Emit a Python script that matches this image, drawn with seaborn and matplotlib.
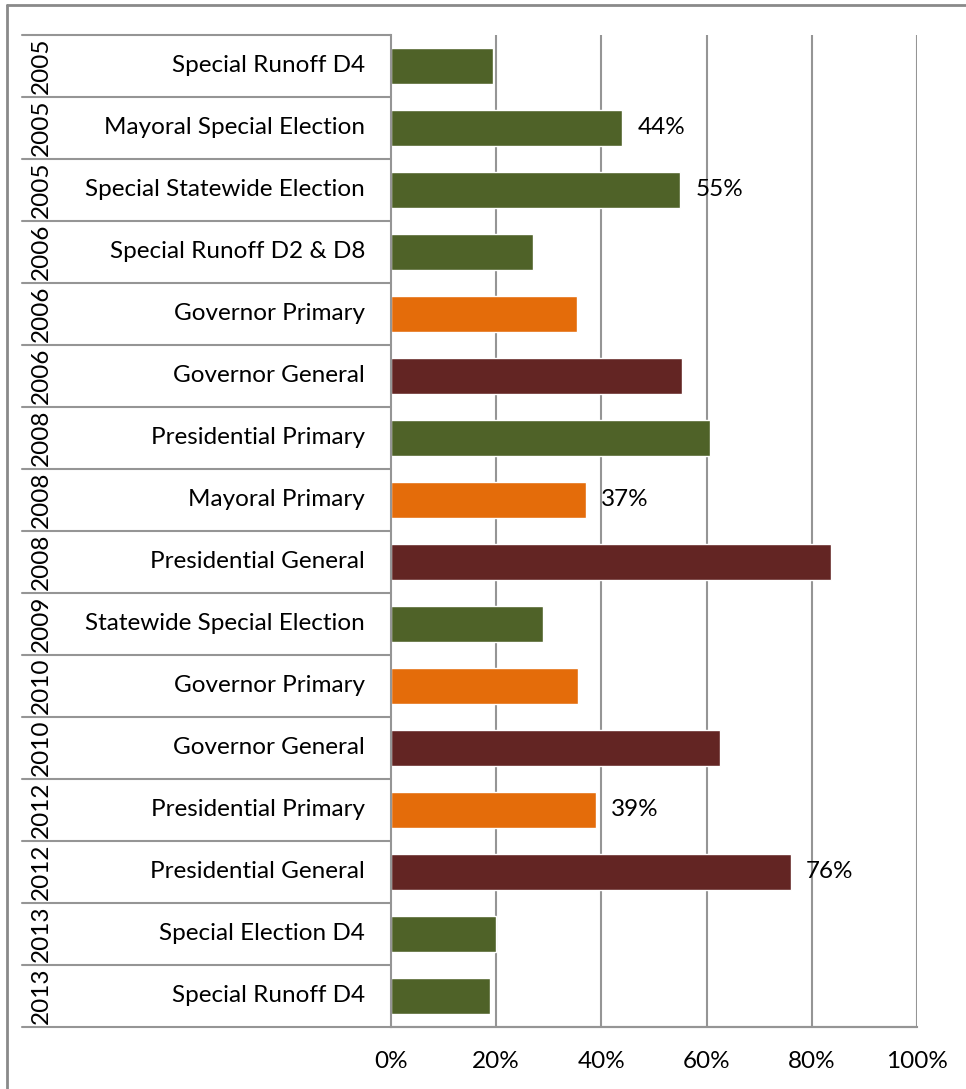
import matplotlib
matplotlib.use("Agg")
import matplotlib.pyplot as plt
import matplotlib.transforms as mtransforms
from matplotlib.lines import Line2D
import pandas as pd
import seaborn as sns

years = [2005, 2005, 2005, 2006, 2006, 2006, 2008, 2008, 2008,
         2009, 2010, 2010, 2012, 2012, 2013, 2013]
elections = [
    "Special Runoff D4", "Mayoral Special Election", "Special Statewide Election",
    "Special Runoff D2 & D8", "Governor Primary", "Governor General",
    "Presidential Primary", "Mayoral Primary", "Presidential General",
    "Statewide Special Election", "Governor Primary", "Governor General",
    "Presidential Primary", "Presidential General", "Special Election D4",
    "Special Runoff D4",
]
turnout = [19.4, 44, 55, 27.0, 35.4, 55.3, 60.6, 37, 83.7,
           28.9, 35.6, 62.5, 39, 76, 20.0, 18.8]
kind = ["special", "special", "special", "special", "primary", "general",
        "special", "primary", "general", "special", "primary", "general",
        "primary", "general", "special", "special"]
labeled = [False, True, True, False, False, False, False, True, False,
           False, False, False, True, True, False, False]
x_ticks = [0, 20, 40, 60, 80, 100]

palette = {"special": "#4F6228", "primary": "#E46C0A", "general": "#632523"}

df = pd.DataFrame({
    "key": [f"{y} {e}" for y, e in zip(years, elections)],
    "turnout": turnout,
    "kind": kind,
})

sns.set_theme(style="white")
plt.rcParams["font.family"] = ["Lato", "DejaVu Sans"]
FS = 17.5

W, H = 966, 1089
fig = plt.figure(figsize=(W / 100, H / 100), dpi=100)
ax_l, ax_r, ax_t, ax_b = 391, 917, 35, 1027
ax = fig.add_axes([ax_l / W, 1 - ax_b / H, (ax_r - ax_l) / W, (ax_b - ax_t) / H])

sns.barplot(data=df, x="turnout", y="key", hue="kind", palette=palette,
            dodge=False, orient="h", width=0.58, saturation=1, legend=False,
            ax=ax)

grid_col = "#959595"
ax.set_xlim(0, 100)
ax.set_ylim(len(df) - 0.5, -0.5)
ax.set_xticks(x_ticks)
ax.set_xticklabels([f"{t}%" for t in x_ticks])
ax.tick_params(axis="x", length=0, pad=17, labelsize=FS, colors="black")
ax.set_yticks([])
ax.set_ylabel("")
ax.set_xlabel("")
for t in x_ticks[1:]:
    ax.axvline(t, color=grid_col, lw=1.5, zorder=0)
for s in ["top", "right"]:
    ax.spines[s].set_visible(False)
for s in ["left", "bottom"]:
    ax.spines[s].set_color(grid_col)
    ax.spines[s].set_linewidth(1.5)

# value labels
for i, (v, show) in enumerate(zip(turnout, labeled)):
    if show:
        ax.annotate(f"{v:.0f}%", xy=(v, i), xytext=(15, 0),
                    textcoords="offset pixels", va="center", ha="left",
                    fontsize=FS, color="black")

# two-level category axis: election name and rotated year
trans = mtransforms.blended_transform_factory(ax.transAxes, ax.transData)
span = ax_r - ax_l
x_name = (365 - ax_l) / span
x_year = (41 - ax_l) / span
x_left = (22 - ax_l) / span
for i, (y, e) in enumerate(zip(years, elections)):
    ax.text(x_name, i, e, transform=trans, ha="right", va="center",
            fontsize=FS, color="black")
    ax.text(x_year, i, str(y), transform=trans, ha="center", va="center",
            rotation=90, fontsize=FS, color="black")
for b in range(len(df) + 1):
    yb = b - 0.5
    x_end = 1.0 if b == len(df) else 0.0
    ax.add_line(Line2D([x_left, x_end], [yb, yb], transform=trans,
                       color=grid_col, lw=1.5, clip_on=False))

# chart frame (top and left edges)
fig.add_artist(Line2D([7 / W, 7 / W], [0, 1 - 5 / H], color="#8a8a8a", lw=2,
                      transform=fig.transFigure))
fig.add_artist(Line2D([7 / W, 1], [1 - 5 / H, 1 - 5 / H], color="#8a8a8a", lw=2,
                      transform=fig.transFigure))

fig.savefig("out.png", dpi=100, facecolor="white")
